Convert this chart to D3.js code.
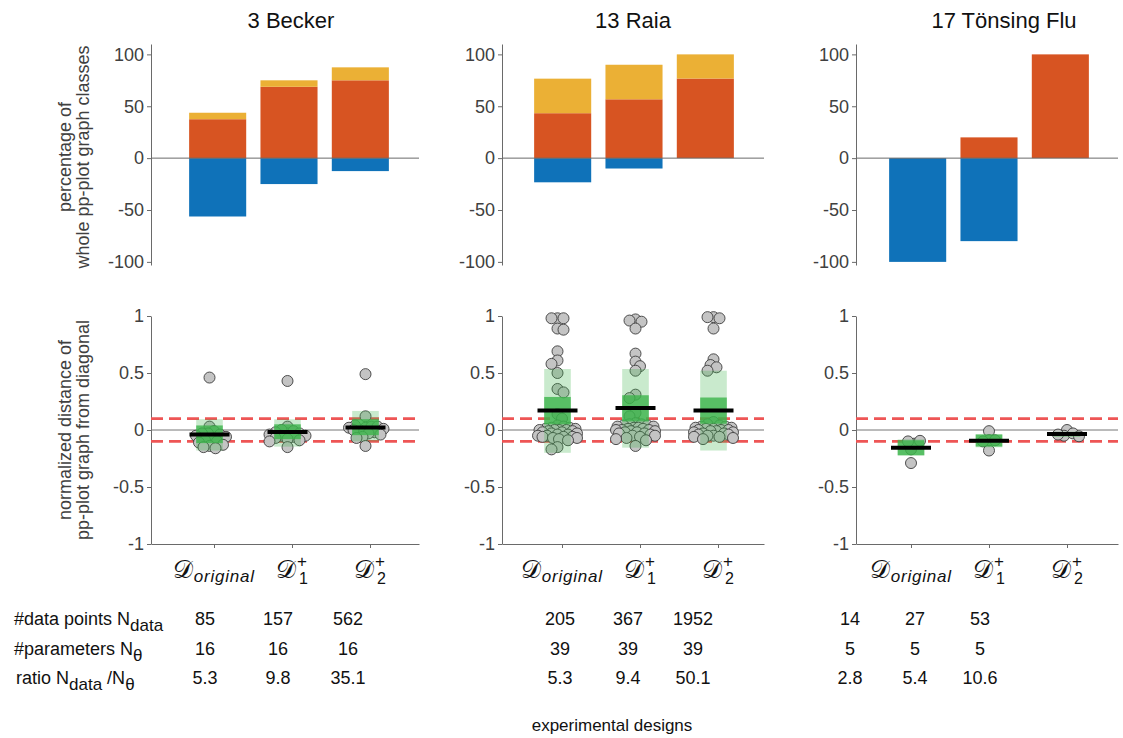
<!DOCTYPE html>
<html>
<head>
<meta charset="utf-8">
<script src="https://cdn.jsdelivr.net/npm/d3@7"></script>
<style>
body { margin: 0; background: #fff; }
svg { display: block; }
text { font-family: "Liberation Sans", Arial, Helvetica, sans-serif; }
</style>
</head>
<body>
<svg width="1123" height="738"></svg>
<script>
// ---- data ----
var models = ["3 Becker", "13 Raia", "17 Tönsing Flu"];
var designs = ["original", "1", "2"];

// percentage of pp-plot graph classes (top row)
var pctBlue   = [[-56.25, -25, -12.5], [-23.3, -10, 0], [-100, -80, 0]];
var pctOrange = [[37.5, 68.75, 75], [43.3, 56.7, 76.7], [0, 20, 100]];
var pctYellow = [[6.25, 6.25, 12.5], [33.3, 33.3, 23.3], [0, 0, 0]];
var topTicks = [-100, -50, 0, 50, 100];

// normalized distance from diagonal, one value per observable (bottom row)
var distBecker = [
  [0.46, 0.03, -0.01, -0.03, -0.03, -0.04, -0.05, -0.06, -0.08, -0.09, -0.1, -0.11, -0.13, -0.14, -0.15, -0.16],
  [0.43, 0.03, -0.03, 0.0, -0.01, -0.02, -0.03, -0.04, -0.05, -0.05, -0.06, -0.07, -0.08, -0.09, -0.1, -0.15],
  [0.49, 0.12, 0.02, 0.0, 0.03, 0.04, 0.03, 0.02, 0.01, 0.0, -0.02, -0.03, -0.04, -0.06, -0.07, -0.14]
];
var distRaia = [
  [0.98, 0.98, 0.98, 0.89, 0.88, 0.69, 0.61, 0.58, 0.5, 0.36, 0.33, 0.14, 0.1,
   0.04, 0.03, 0.02, 0.02, 0.01, 0.01, 0.0, 0.0, 0.0, 0.0, -0.01, -0.01, -0.02, -0.02, -0.03, -0.03,
   -0.04, -0.04, -0.05, -0.05, -0.06, -0.06, -0.06, -0.07, -0.07, -0.08, -0.09, -0.15, -0.17],
  [0.97, 0.96, 0.95, 0.89, 0.67, 0.6, 0.56, 0.52, 0.31, 0.28, 0.15, 0.12,
   0.06, 0.05, 0.05, 0.04, 0.04, 0.03, 0.03, 0.02, 0.02, 0.01, 0.01, 0.0, 0.0, 0.0, -0.01, -0.01,
   -0.02, -0.02, -0.03, -0.03, -0.04, -0.05, -0.05, -0.06, -0.07, -0.08, -0.09, -0.14],
  [0.99, 0.99, 0.98, 0.89, 0.62, 0.57, 0.55, 0.52,
   0.07, 0.05, 0.04, 0.03, 0.03, 0.02, 0.02, 0.01, 0.01, 0.0, 0.0, 0.0, -0.01, -0.01, -0.02, -0.02,
   -0.03, -0.03, -0.04, -0.04, -0.05, -0.05, -0.06, -0.06, -0.07, -0.08]
];
var distTonsing = [
  [-0.29, -0.17, -0.12, -0.1, -0.095],
  [-0.01, -0.18, -0.09, -0.1, -0.09],
  [0.0, -0.05, -0.03, -0.04, -0.055]
];
var distAll = [distBecker, distRaia, distTonsing];

// mean line, SD band (light) and 95% SEM band (dark)
var meanVal = [[-0.04, -0.017, 0.022], [0.17, 0.193, 0.17], [-0.155, -0.094, -0.035]];
var sdLo = [[-0.18, -0.146, -0.10], [-0.2, -0.155, -0.18], [-0.228, -0.152, -0.058]];
var sdHi = [[0.095, 0.094, 0.167], [0.535, 0.535, 0.52], [-0.082, -0.035, -0.015]];
var semLo = [[-0.115, -0.08, -0.045], [0.05, 0.075, 0.055], [-0.22, -0.145, -0.055]];
var semHi = [[0.04, 0.05, 0.095], [0.29, 0.305, 0.285], [-0.09, -0.04, -0.018]];
var botTicks = [-1, -0.5, 0, 0.5, 1];
var threshold = 0.1;

// table below the panels
var nData  = [[85, 157, 562], [205, 367, 1952], [14, 27, 53]];
var nTheta = [[16, 16, 16], [39, 39, 39], [5, 5, 5]];
var ratio  = [["5.3", "9.8", "35.1"], ["5.3", "9.4", "50.1"], ["2.8", "5.4", "10.6"]];

// ---- layout ----
var panelX = [151, 502, 856];
var panelW = [268, 262, 262];
var barStart = [31, 25, 26];
var tickStart = [63, 60, 55];
var markShift = [-4.5, -4.5, 0];
var titleX = [291, 633, 1004];
var tableX = [[205, 278, 348], [560, 628, 693], [850, 915, 980]];
var rowY = [625, 655, 684];

var cBlue = '#0f72b9', cOrange = '#d75422', cYellow = '#ebb035';
var axisColor = '#6a6a6a', textColor = '#404040';

var svg = d3.select('svg');
var yTop = d3.scaleLinear().domain([-103, 110]).range([265, 44]);
var yBot = d3.scaleLinear().domain([-1, 1]).range([544, 316]);

function styleAxis(sel) {
  sel.selectAll('path, line').attr('stroke', axisColor);
  sel.selectAll('text').attr('font-size', 18).attr('fill', textColor);
}

// simple deterministic swarm so overlapping points spread sideways
function swarm(vals, minD, maxOff) {
  var placed = [];
  return vals.map(function(v, i) {
    var y = yBot(v);
    var best = 0, bestD = -1;
    for (var k = 0; k <= maxOff; k += 1.5) {
      var cands = k === 0 ? [0] : (i % 2 ? [-k, k] : [k, -k]);
      for (var c = 0; c < cands.length; c++) {
        var s = cands[c];
        var dmin = placed.length ? d3.min(placed, function(p) { return Math.hypot(p.x - s, p.y - y); }) : Infinity;
        if (dmin > bestD) { bestD = dmin; best = s; }
        if (dmin >= minD) { k = maxOff + 1; break; }
      }
    }
    placed.push({x: best, y: y});
    return {x: best, y: y, v: v};
  });
}

function designLabel(g, x, y, d) {
  var lab = g.append('g');
  var big = lab.append('text').attr('x', 0).attr('y', 0)
    .attr('font-family', '"DejaVu Serif", serif').attr('font-size', 25).attr('fill', '#111')
    .text('\u{1D49F}');
  var wD = big.node().getComputedTextLength();
  if (d === 'original') {
    lab.append('text').attr('x', wD + 1).attr('y', 4)
      .attr('font-family', '"DejaVu Serif", serif').attr('font-style', 'italic')
      .attr('font-size', 17).attr('letter-spacing', 0.8).attr('fill', '#111')
      .text('original');
  } else {
    lab.append('text').attr('x', wD + 1).attr('y', -11)
      .attr('font-family', '"DejaVu Serif", serif').attr('font-size', 17).attr('fill', '#111').text('+');
    lab.append('text').attr('x', wD + 3).attr('y', 6)
      .attr('font-family', '"DejaVu Serif", serif').attr('font-size', 16).attr('fill', '#111').text(d);
  }
  var bb = lab.node().getBBox();
  lab.attr('transform', 'translate(' + (x - bb.x - bb.width / 2) + ',' + y + ')');
}

models.forEach(function(name, p) {
  var x0 = panelX[p], w = panelW[p];

  svg.append('text').attr('x', titleX[p]).attr('y', 28)
    .attr('text-anchor', 'middle').attr('font-size', 22).attr('fill', '#111')
    .text(name);

  // ---- top: stacked percentages ----
  var gt = svg.append('g').attr('transform', 'translate(' + x0 + ',0)');
  var xb = d3.scaleBand().domain(designs)
    .range([barStart[p], barStart[p] + 214]).paddingInner(0.2).paddingOuter(0.1);

  designs.forEach(function(d, i) {
    var b = pctBlue[p][i], o = pctOrange[p][i], yl = pctYellow[p][i];
    if (b < 0) gt.append('rect').attr('x', xb(d)).attr('width', xb.bandwidth())
      .attr('y', yTop(0)).attr('height', yTop(b) - yTop(0)).attr('fill', cBlue);
    if (o > 0) gt.append('rect').attr('x', xb(d)).attr('width', xb.bandwidth())
      .attr('y', yTop(o)).attr('height', yTop(0) - yTop(o)).attr('fill', cOrange);
    if (yl > 0) gt.append('rect').attr('x', xb(d)).attr('width', xb.bandwidth())
      .attr('y', yTop(o + yl)).attr('height', yTop(o) - yTop(o + yl)).attr('fill', cYellow);
  });

  gt.append('line').attr('x1', 0).attr('x2', w).attr('y1', yTop(0)).attr('y2', yTop(0))
    .attr('stroke', axisColor).attr('stroke-width', 1);
  gt.append('g')
    .call(d3.axisLeft(yTop).tickValues(topTicks).tickFormat(String).tickSize(4).tickSizeOuter(0))
    .call(styleAxis);

  // ---- bottom: distance from diagonal ----
  var gb = svg.append('g').attr('transform', 'translate(' + x0 + ',0)');
  var xp = d3.scalePoint().domain(designs).range([tickStart[p], tickStart[p] + 156]);

  gb.append('g').attr('transform', 'translate(0,' + yBot(-1) + ')')
    .call(d3.axisBottom(d3.scaleLinear().domain([0, w]).range([0, w]))
      .tickValues(designs.map(function(d) { return xp(d); })).tickFormat('').tickSize(4).tickSizeOuter(0))
    .call(styleAxis);
  gb.append('g')
    .call(d3.axisLeft(yBot).tickValues(botTicks).tickFormat(String).tickSize(4).tickSizeOuter(0))
    .call(styleAxis);

  gb.append('line').attr('x1', 0).attr('x2', w).attr('y1', yBot(0)).attr('y2', yBot(0))
    .attr('stroke', '#777').attr('stroke-width', 1);
  [threshold, -threshold].forEach(function(t) {
    gb.append('line').attr('x1', 0).attr('x2', w).attr('y1', yBot(t)).attr('y2', yBot(t))
      .attr('stroke', '#ee5555').attr('stroke-width', 2.6).attr('stroke-dasharray', '12,6');
  });

  designs.forEach(function(d, i) {
    var cx = xp(d) + markShift[p];
    var pts = swarm(distAll[p][i], 6, 20);
    gb.selectAll(null).data(pts).enter().append('circle')
      .attr('cx', function(q) { return cx + q.x; })
      .attr('cy', function(q) { return q.y; })
      .attr('r', 5.5)
      .attr('fill', '#c4c4c4').attr('stroke', '#3c3c3c').attr('stroke-width', 0.9);

    gb.append('rect').attr('x', cx - 13.3).attr('width', 26.6)
      .attr('y', yBot(sdHi[p][i])).attr('height', yBot(sdLo[p][i]) - yBot(sdHi[p][i]))
      .attr('fill', '#3cb44b').attr('fill-opacity', 0.28);
    gb.append('rect').attr('x', cx - 13.3).attr('width', 26.6)
      .attr('y', yBot(semHi[p][i])).attr('height', yBot(semLo[p][i]) - yBot(semHi[p][i]))
      .attr('fill', '#3cb44b').attr('fill-opacity', 0.8);
    gb.append('line').attr('x1', cx - 20).attr('x2', cx + 20)
      .attr('y1', yBot(meanVal[p][i])).attr('y2', yBot(meanVal[p][i]))
      .attr('stroke', '#000').attr('stroke-width', 4);

    designLabel(svg, x0 + xp(d), 578, d);

    // table columns
    [nData[p][i], nTheta[p][i], ratio[p][i]].forEach(function(v, r) {
      svg.append('text').attr('x', tableX[p][i]).attr('y', rowY[r])
        .attr('text-anchor', 'middle').attr('font-size', 18).attr('fill', '#111').text(v);
    });
  });
});

// y axis titles (two lines, rotated)
function yTitle(lines, cy) {
  var t = svg.append('text').attr('transform', 'translate(0,' + cy + ') rotate(-90)')
    .attr('text-anchor', 'middle').attr('font-size', 18).attr('fill', textColor);
  lines.forEach(function(s, k) {
    t.append('tspan').attr('x', 0).attr('y', 71 + k * 18).text(s);
  });
}
yTitle(['percentage of', 'whole pp-plot graph classes'], 157);
yTitle(['normalized distance of', 'pp-plot graph from diagonal'], 430);

// table row labels with subscripts
var rowLabels = [
  [['#data points N', 0], ['data', 1]],
  [['#parameters N', 0], ['\u03B8', 1]],
  [['ratio N', 0], ['data', 1], [' /N', 0], ['\u03B8', 1]]
];
var rowLabelX = [14, 14, 16];
rowLabels.forEach(function(parts, r) {
  var t = svg.append('text').attr('x', rowLabelX[r]).attr('y', rowY[r])
    .attr('font-size', 18).attr('fill', '#111');
  var low = false;
  parts.forEach(function(pt) {
    var sp = t.append('tspan').text(pt[0]);
    if (pt[1]) { sp.attr('dy', low ? 0 : 6).attr('font-size', 17); low = true; }
    else if (low) { sp.attr('dy', -6); low = false; }
  });
});

svg.append('text').attr('x', 612).attr('y', 731).attr('text-anchor', 'middle')
  .attr('font-size', 17).attr('fill', '#111').text('experimental designs');
</script>
</body>
</html>
